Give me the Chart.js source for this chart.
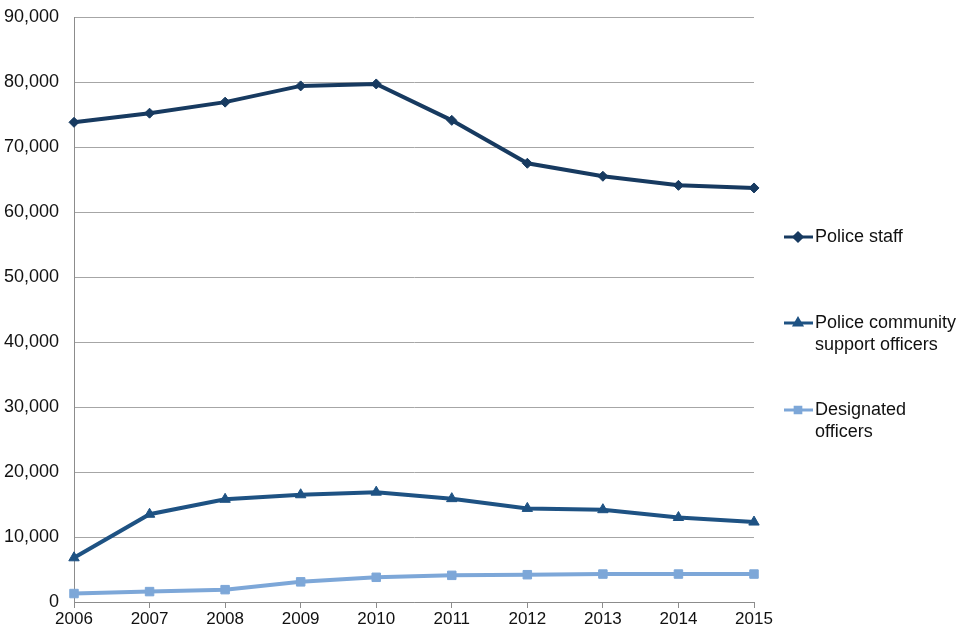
<!DOCTYPE html>
<html>
<head>
<meta charset="utf-8">
<script src="https://cdn.jsdelivr.net/npm/chart.js@4"></script>
<style>
  html, body { margin: 0; padding: 0; background: #fff; }
  #wrap { width: 960px; height: 640px; }
</style>
</head>
<body>
<div id="wrap"><canvas id="myChart" width="960" height="640"></canvas></div>
<script>
const years = ['2006', '2007', '2008', '2009', '2010', '2011', '2012', '2013', '2014', '2015']
const policeStaff = [73800, 75200, 76900, 79400, 79700, 74100, 67500, 65500, 64100, 63700]
const pcso = [6800, 13500, 15800, 16500, 16900, 15900, 14400, 14200, 13000, 12300]
const designated = [1300, 1600, 1900, 3100, 3800, 4100, 4200, 4300, 4300, 4300]
const seriesNames = ['Police staff', ['Police community', 'support officers'], ['Designated', 'officers']]
const yTicks = [0, 10000, 20000, 30000, 40000, 50000, 60000, 70000, 80000, 90000]

const colors = ['#173a60', '#1e5283', '#7da7d8']
const styles = ['rectRot', 'triangle', 'rect']
const radii = [5, 6, 6]

const font = "'Liberation Sans', Arial, sans-serif"

// legend drawn on the right like the original
const sideLegend = {
    id: 'sideLegend',
    afterDraw(chart) {
        const ctx = chart.ctx
        const rows = [237, 323, 410]
        ctx.save()
        chart.data.datasets.forEach((ds, i) => {
            const y = rows[i]
            ctx.strokeStyle = ds.borderColor
            ctx.lineWidth = 3
            ctx.beginPath()
            ctx.moveTo(784, y)
            ctx.lineTo(813, y)
            ctx.stroke()
            ctx.fillStyle = ds.borderColor
            ctx.strokeStyle = ds.borderColor
            Chart.helpers.drawPoint(ctx, {
                pointStyle: ds.pointStyle, radius: 4, rotation: 0, borderWidth: 1
            }, 798, y)
            ctx.fillStyle = '#111'
            ctx.font = '18px ' + font
            ctx.textBaseline = 'middle'
            const lines = Array.isArray(seriesNames[i]) ? seriesNames[i] : [seriesNames[i]]
            lines.forEach((t, j) => ctx.fillText(t, 815, y + j * 22))
        })
        ctx.restore()
    }
}

const data = {
    labels: years,
    datasets: [policeStaff, pcso, designated].map((vals, i) => ({
        label: Array.isArray(seriesNames[i]) ? seriesNames[i].join(' ') : seriesNames[i],
        data: vals,
        borderColor: colors[i],
        backgroundColor: colors[i],
        borderWidth: 4,
        pointStyle: styles[i],
        pointRadius: radii[i],
        pointHoverRadius: radii[i],
        pointBorderWidth: 1,
        tension: 0
    }))
}

const config = {
    type: 'line',
    data: data,
    plugins: [sideLegend],
    options: {
        responsive: false,
        animation: false,
        layout: { padding: { top: 17, right: 206, left: 2, bottom: 0 } },
        plugins: {
            legend: { display: false },
            tooltip: { enabled: false }
        },
        scales: {
            x: {
                offset: false,
                border: { color: '#8c8c8c', width: 1 },
                grid: { drawOnChartArea: false, drawTicks: true, tickLength: 6, tickColor: '#8c8c8c' },
                ticks: { color: '#111', font: { family: font, size: 17 }, padding: 1, maxRotation: 0 },
                afterFit: scale => { scale.height = 38 }
            },
            y: {
                min: 0,
                max: 90000,
                afterBuildTicks: scale => { scale.ticks = yTicks.map(v => ({ value: v })) },
                border: { color: '#8c8c8c', width: 1 },
                grid: { color: '#a6a6a6', drawTicks: false },
                ticks: {
                    color: '#111',
                    font: { family: font, size: 18 },
                    padding: 15,
                    callback: v => v.toLocaleString('en-US')
                },
                afterFit: scale => {
                    scale.width = 72
                    scale.paddingTop = 0
                    scale.paddingBottom = 0
                }
            }
        }
    }
}

const myChart = new Chart(document.getElementById('myChart'), config)
</script>
</body>
</html>
